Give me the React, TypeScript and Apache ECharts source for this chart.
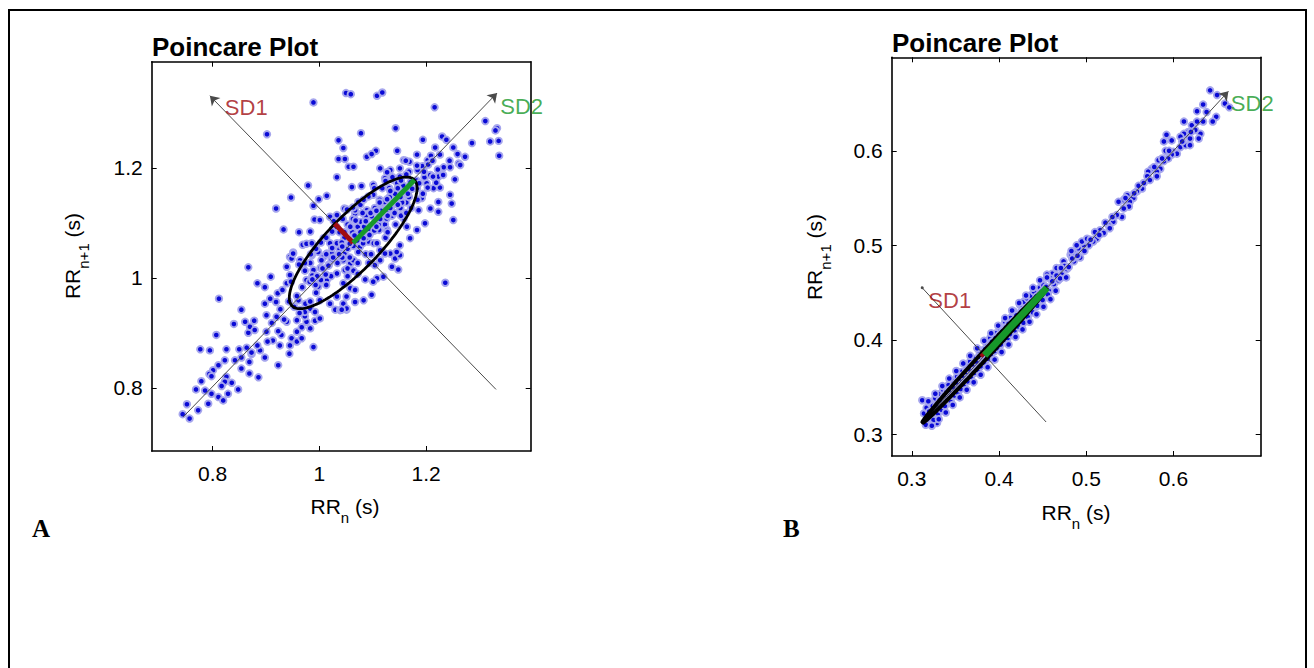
import React, { useEffect, useRef } from 'react';
import * as echarts from 'echarts';

const FONT = '"Liberation Sans", Arial, Helvetica, sans-serif';
const SERIF = '"Liberation Serif", "Times New Roman", serif';

// ---------- axis limits & ticks ----------
const xRangeA = [0.686, 1.396];
const yRangeA = [0.685, 1.393];
const xRangeB = [0.277, 0.7];
const yRangeB = [0.277, 0.699];
const ticksA = [0.8, 1, 1.2];
const ticksB = [0.3, 0.4, 0.5, 0.6];

// ---------- panel A : RR(n), RR(n+1) pairs (s) ----------
const pointsA: [number, number][] = [
  [0.989, 1.319], [0.902, 1.261], [1.036, 1.25], [1.036, 1.216], [1.055, 1.202], [1.033, 1.183],
  [0.979, 1.168], [0.947, 1.146], [0.999, 1.143], [1.014, 1.149], [0.919, 1.126], [0.989, 1.131],
  [1.047, 1.126], [0.933, 1.088], [0.962, 1.083], [0.983, 1.084], [0.991, 1.106], [1.001, 1.105],
  [1.02, 1.111], [1.033, 1.114], [1.008, 1.072], [1.02, 1.063], [0.969, 1.06], [0.976, 1.062],
  [0.986, 1.063], [0.951, 1.046], [0.945, 1.038], [0.998, 1.047], [1.014, 1.044], [1.047, 1.044],
  [1.05, 1.336], [1.059, 1.334], [1.108, 1.331], [1.118, 1.337], [1.216, 1.31], [1.311, 1.285],
  [1.333, 1.272], [1.33, 1.268], [1.32, 1.248], [1.336, 1.249], [1.337, 1.222], [1.286, 1.245],
  [1.143, 1.272], [1.078, 1.263], [1.194, 1.251], [1.045, 1.236], [1.106, 1.231], [1.23, 1.257],
  [1.238, 1.251], [1.217, 1.237], [1.251, 1.237], [1.259, 1.225], [1.146, 1.231], [1.089, 1.22],
  [1.098, 1.225], [1.048, 1.216], [1.064, 1.202], [1.158, 1.214], [1.169, 1.211], [1.203, 1.214],
  [1.209, 1.222], [1.233, 1.201], [1.245, 1.201], [1.261, 1.208], [1.264, 1.205], [1.273, 1.22],
  [1.114, 1.199], [1.133, 1.196], [1.151, 1.199], [1.164, 1.187], [1.184, 1.196], [1.195, 1.202],
  [1.123, 1.181], [1.139, 1.178], [1.223, 1.184], [1.254, 1.179], [1.061, 1.165], [1.079, 1.167],
  [1.101, 1.169], [1.201, 1.172], [1.214, 1.163], [1.226, 1.164], [1.245, 1.151], [1.248, 1.135],
  [1.223, 1.138], [1.208, 1.126], [1.192, 1.145], [1.186, 1.123], [1.251, 1.105], [1.223, 1.12],
  [1.198, 1.099], [1.183, 1.087], [1.17, 1.072], [1.164, 1.093], [1.158, 1.108], [1.073, 1.138],
  [1.067, 1.117], [1.089, 1.123], [1.101, 1.151], [1.151, 1.059], [1.133, 1.044], [1.114, 1.05],
  [1.076, 1.056], [1.092, 1.066],
  [0.867, 1.019], [0.884, 0.99], [0.898, 0.983], [0.909, 1.002], [0.812, 0.962], [0.854, 0.942],
  [0.84, 0.916], [0.861, 0.92], [0.878, 0.922], [0.807, 0.896], [0.867, 0.9], [0.87, 0.911],
  [0.879, 0.905], [0.777, 0.87], [0.795, 0.868], [0.826, 0.87], [0.85, 0.87], [0.823, 0.85],
  [0.842, 0.85], [0.854, 0.855], [0.811, 0.841], [0.801, 0.832], [0.794, 0.825], [0.798, 0.821],
  [0.854, 0.835], [0.869, 0.847], [0.869, 0.826], [0.886, 0.819], [0.826, 0.82], [0.823, 0.811],
  [0.817, 0.803], [0.836, 0.809], [0.848, 0.797], [0.829, 0.789], [0.811, 0.783], [0.82, 0.777],
  [0.779, 0.812], [0.769, 0.797], [0.786, 0.795], [0.798, 0.789], [0.792, 0.771], [0.773, 0.759],
  [0.752, 0.77], [0.744, 0.752], [0.757, 0.744], [0.873, 0.861], [0.889, 0.868], [0.898, 0.855],
  [0.901, 0.902], [0.911, 0.918], [0.92, 0.929], [0.901, 0.932], [0.898, 0.953], [0.922, 0.972],
  [0.919, 0.956], [0.931, 0.978], [0.939, 0.99], [0.945, 1.005], [0.939, 1.02], [0.948, 1.035],
  [0.923, 0.841], [0.926, 0.877], [0.929, 0.896], [0.945, 0.877], [0.948, 0.89], [0.958, 0.884],
  [0.944, 0.862], [0.967, 0.89], [0.989, 0.874], [0.958, 0.902], [0.967, 0.91], [0.976, 0.92],
  [0.983, 0.908], [0.992, 0.922], [1.001, 0.926], [0.973, 0.93], [0.958, 0.923], [0.964, 0.942],
  [0.973, 0.938], [0.983, 0.944], [0.992, 0.938], [0.961, 0.959], [0.976, 0.953], [1.001, 0.959],
  [1.02, 0.953], [1.03, 0.942], [1.039, 0.941], [1.051, 0.942], [1.045, 0.953], [1.033, 0.966],
  [1.051, 0.966], [0.951, 1.044], [0.964, 1.032], [0.986, 1.041], [1.008, 1.038], [1.023, 1.044],
  [1.045, 1.032], [0.989, 1.014], [0.976, 0.996], [0.998, 0.984], [1.014, 0.996], [1.033, 1.008],
  [1.045, 0.99], [1.051, 1.014], [0.908, 0.962], [0.939, 0.92],
  [1.236, 0.991], [1.148, 1.015], [1.136, 1.02], [1.142, 1.035], [1.151, 1.041], [1.145, 1.047],
  [1.12, 1.002], [1.108, 0.999], [1.101, 0.993], [1.086, 0.997], [1.098, 0.969], [1.083, 0.959],
  [1.067, 0.956], [1.051, 0.944], [1.042, 0.942], [1.058, 0.981], [1.067, 0.978], [1.048, 1.014],
  [1.058, 1.026], [1.064, 1.032], [1.114, 1.032], [1.123, 1.044], [1.104, 1.023],
  [1.072, 1.093], [1.078, 1.102], [1.093, 1.117], [1.098, 1.112], [1.117, 1.133], [1.132, 1.147],
  [1.143, 1.138], [1.148, 1.163], [1.157, 1.168], [1.113, 1.142], [1.097, 1.083], [1.123, 1.097],
  [1.128, 1.123], [1.152, 1.127], [1.047, 1.073], [1.038, 1.052], [1.033, 1.063], [1.057, 1.037],
  [1.082, 1.063], [1.088, 1.073], [1.112, 1.087], [1.023, 1.033], [1.002, 1.018], [0.987, 1.004],
  [1.013, 0.987], [0.968, 0.983], [0.958, 0.967], [1.067, 1.123], [1.053, 1.097], [1.077, 1.133],
  [1.168, 1.193], [1.182, 1.177], [1.193, 1.203], [1.163, 1.137], [1.137, 1.183], [1.118, 1.163],
  [1.102, 1.063], [1.038, 1.083], [1.063, 1.107], [1.032, 1.093], [1.127, 1.087], [1.153, 1.113],
  [1.168, 1.147], [1.183, 1.163], [1.197, 1.183], [1.208, 1.187], [1.187, 1.172], [1.222, 1.197],
  [1.053, 1.017], [1.072, 1.027], [1.087, 1.043], [1.108, 1.063], [1.022, 1.003], [0.983, 1.027],
  [0.973, 1.013], [0.947, 0.993], [0.943, 0.957], [0.927, 0.943],
  [1.062, 1.083], [1.071, 1.068], [1.084, 1.093], [1.093, 1.087], [1.104, 1.097], [1.113, 1.114],
  [1.118, 1.124], [1.134, 1.127], [1.142, 1.153], [1.153, 1.148], [1.163, 1.158], [1.171, 1.174],
  [1.087, 1.113], [1.104, 1.127], [1.116, 1.122], [1.122, 1.138], [1.131, 1.163], [1.146, 1.172],
  [1.151, 1.184], [1.163, 1.188], [1.081, 1.118], [1.068, 1.104], [1.058, 1.093], [1.047, 1.083],
  [1.103, 1.086], [1.111, 1.097], [1.126, 1.108], [1.136, 1.113], [1.141, 1.118], [1.155, 1.137],
  [1.166, 1.153], [1.174, 1.162], [1.043, 1.037], [1.034, 1.027], [1.018, 1.024], [1.012, 1.006],
  [1.003, 0.996], [0.993, 0.987], [0.982, 0.993], [1.004, 1.032], [1.013, 1.043], [1.024, 1.054],
  [1.036, 1.043], [1.042, 1.064], [1.053, 1.053], [1.064, 1.058], [1.073, 1.047], [1.083, 1.072],
  [1.094, 1.078], [1.183, 1.204], [1.196, 1.193], [1.204, 1.206], [1.212, 1.213], [1.203, 1.164],
  [1.219, 1.173], [1.184, 1.142], [1.172, 1.127], [1.163, 1.118], [1.194, 1.153], [1.213, 1.184],
  [1.232, 1.187], [1.244, 1.213], [1.226, 1.224], [1.183, 1.224], [1.162, 1.213], [1.127, 1.192],
  [1.124, 1.176], [1.103, 1.163], [1.092, 1.148], [1.083, 1.142], [1.063, 1.128], [1.052, 1.124],
  [1.044, 1.107], [1.027, 1.103], [1.024, 1.084], [1.013, 1.073], [1.003, 1.064], [0.994, 1.053],
  [0.984, 1.043], [0.973, 1.027], [0.962, 1.024], [1.093, 1.027], [1.097, 1.043], [1.124, 1.073],
  [1.128, 1.083], [1.143, 1.097], [1.053, 1.003], [1.064, 1.013], [1.072, 1.007], [0.974, 0.953],
  [0.983, 0.957], [0.994, 0.973], [0.953, 0.947], [0.963, 0.936], [0.934, 0.924], [0.923, 0.903],
  [0.913, 0.886], [0.903, 0.884], [0.884, 0.877], [0.873, 0.864], [0.864, 0.873],
  [1.087, 1.103], [1.096, 1.118], [1.107, 1.122], [1.113, 1.137], [1.127, 1.143], [1.133, 1.158],
  [1.147, 1.163], [1.153, 1.177], [1.077, 1.083], [1.066, 1.077], [1.057, 1.062], [1.043, 1.057],
  [1.107, 1.093], [1.114, 1.107], [1.128, 1.113], [1.133, 1.127], [1.147, 1.133], [1.152, 1.147],
  [1.037, 1.043], [1.026, 1.037], [1.017, 1.022], [1.006, 1.017], [0.996, 1.003], [0.987, 0.997],
];

// ---------- panel B : RR(n), RR(n+1) pairs (s) ----------
const pointsB: [number, number][] = [
  [0.642, 0.664], [0.65, 0.659], [0.659, 0.65], [0.664, 0.646], [0.649, 0.636], [0.645, 0.631],
  [0.634, 0.649], [0.627, 0.642], [0.634, 0.631], [0.631, 0.618], [0.612, 0.631], [0.621, 0.627],
  [0.625, 0.622], [0.617, 0.62], [0.612, 0.618], [0.608, 0.615], [0.619, 0.613], [0.629, 0.613],
  [0.598, 0.611], [0.608, 0.604], [0.614, 0.606], [0.619, 0.606], [0.592, 0.617], [0.589, 0.61],
  [0.6, 0.599], [0.604, 0.597], [0.598, 0.596], [0.594, 0.592], [0.589, 0.589], [0.583, 0.59],
  [0.591, 0.6], [0.585, 0.581], [0.581, 0.578], [0.575, 0.581], [0.571, 0.578], [0.57, 0.573],
  [0.573, 0.569], [0.581, 0.573], [0.564, 0.56], [0.558, 0.557], [0.554, 0.55], [0.55, 0.546],
  [0.547, 0.553], [0.543, 0.548], [0.549, 0.541], [0.543, 0.539], [0.537, 0.546], [0.541, 0.53],
  [0.535, 0.532], [0.531, 0.525], [0.526, 0.521], [0.527, 0.518], [0.516, 0.516], [0.52, 0.513],
  [0.512, 0.507], [0.508, 0.504], [0.503, 0.5], [0.497, 0.499], [0.491, 0.497], [0.485, 0.493],
  [0.482, 0.49], [0.474, 0.483], [0.466, 0.476], [0.461, 0.47], [0.495, 0.504], [0.501, 0.507],
  [0.489, 0.5], [0.483, 0.49],
  [0.312, 0.336], [0.329, 0.312], [0.318, 0.316], [0.314, 0.322], [0.317, 0.328], [0.321, 0.333],
  [0.322, 0.318], [0.326, 0.322], [0.327, 0.338], [0.331, 0.327], [0.333, 0.343], [0.336, 0.33],
  [0.336, 0.347], [0.339, 0.334], [0.342, 0.352], [0.344, 0.338], [0.346, 0.342], [0.348, 0.356],
  [0.35, 0.345], [0.352, 0.361], [0.354, 0.349], [0.357, 0.366], [0.359, 0.352], [0.361, 0.357],
  [0.363, 0.372], [0.366, 0.359], [0.367, 0.377], [0.37, 0.364], [0.373, 0.38], [0.375, 0.369],
  [0.378, 0.386], [0.38, 0.374], [0.382, 0.389], [0.385, 0.379], [0.386, 0.395], [0.388, 0.384],
  [0.39, 0.402], [0.393, 0.389], [0.397, 0.407], [0.398, 0.394], [0.401, 0.412], [0.403, 0.399],
  [0.407, 0.419], [0.409, 0.404], [0.413, 0.423], [0.414, 0.41], [0.417, 0.43], [0.419, 0.414],
  [0.424, 0.437], [0.425, 0.421], [0.428, 0.44], [0.43, 0.425], [0.432, 0.444], [0.435, 0.43],
  [0.436, 0.447], [0.44, 0.451], [0.441, 0.436], [0.447, 0.455], [0.446, 0.441], [0.451, 0.458],
  [0.452, 0.446], [0.455, 0.469], [0.459, 0.465], [0.457, 0.452], [0.463, 0.459], [0.468, 0.463],
  [0.472, 0.469], [0.478, 0.475], [0.486, 0.483], [0.493, 0.487],
  [0.316, 0.31], [0.32, 0.324], [0.324, 0.33], [0.325, 0.315], [0.328, 0.33], [0.33, 0.322],
  [0.332, 0.336], [0.334, 0.326], [0.337, 0.341], [0.338, 0.33], [0.34, 0.345], [0.341, 0.336],
  [0.343, 0.347], [0.345, 0.334], [0.347, 0.35], [0.349, 0.341], [0.351, 0.355], [0.353, 0.344],
  [0.355, 0.359], [0.356, 0.348], [0.358, 0.362], [0.36, 0.353], [0.362, 0.366], [0.364, 0.356],
  [0.365, 0.369], [0.368, 0.361], [0.37, 0.374], [0.372, 0.365], [0.374, 0.377], [0.376, 0.368],
  [0.377, 0.382], [0.379, 0.372], [0.381, 0.384], [0.383, 0.376], [0.384, 0.39], [0.387, 0.38],
  [0.389, 0.393], [0.391, 0.385], [0.392, 0.398], [0.395, 0.388], [0.396, 0.402], [0.399, 0.391],
  [0.4, 0.405], [0.402, 0.395], [0.404, 0.409], [0.406, 0.4], [0.408, 0.413], [0.41, 0.402],
  [0.411, 0.417], [0.413, 0.406], [0.416, 0.42], [0.418, 0.41], [0.42, 0.426], [0.422, 0.414],
  [0.426, 0.43], [0.428, 0.418], [0.431, 0.434], [0.433, 0.424], [0.437, 0.44], [0.439, 0.429],
  [0.443, 0.446], [0.444, 0.436], [0.449, 0.451], [0.45, 0.442], [0.454, 0.456], [0.456, 0.448],
  [0.461, 0.462], [0.466, 0.468], [0.47, 0.465], [0.475, 0.478], [0.48, 0.477], [0.484, 0.486],
  [0.49, 0.489], [0.498, 0.494], [0.505, 0.506], [0.51, 0.514], [0.515, 0.511], [0.522, 0.524],
  [0.53, 0.53], [0.545, 0.55], [0.555, 0.555], [0.56, 0.563], [0.566, 0.566], [0.578, 0.583],
  [0.587, 0.592], [0.595, 0.6], [0.61, 0.61], [0.62, 0.62], [0.627, 0.631], [0.638, 0.641],
  [0.319, 0.335], [0.323, 0.309], [0.327, 0.343], [0.331, 0.316], [0.335, 0.351], [0.339, 0.323],
  [0.343, 0.359], [0.347, 0.331], [0.351, 0.367], [0.355, 0.339], [0.359, 0.375], [0.363, 0.347],
  [0.367, 0.383], [0.371, 0.355], [0.375, 0.391], [0.379, 0.363], [0.383, 0.399], [0.387, 0.371],
  [0.391, 0.407], [0.395, 0.379], [0.399, 0.415], [0.403, 0.387], [0.407, 0.423], [0.411, 0.395],
  [0.415, 0.431], [0.419, 0.403], [0.423, 0.439], [0.427, 0.411], [0.431, 0.447], [0.435, 0.419],
  [0.439, 0.455], [0.443, 0.427], [0.447, 0.463], [0.451, 0.435], [0.455, 0.466], [0.459, 0.443],
  [0.465, 0.452], [0.471, 0.476], [0.477, 0.466], [0.483, 0.494],
];

// ---------- Poincare descriptors ----------
const centerA = 1.0635;
const sd1A = 0.049;
const sd2A = 0.162;
const centerB = 0.3835;
const sd1B = 0.004;
const sd2B = 0.101;
const sd2AxisA: [number, number][] = [[0.745, 0.747], [1.333, 1.336]];
const sd1AxisA: [number, number][] = [[1.331, 0.797], [0.795, 1.331]];
const sd2AxisB: [number, number][] = [[0.311, 0.311], [0.663, 0.663]];
const sd1AxisB: [number, number][] = [[0.454, 0.313], [0.312, 0.455]];
const labelSD1A: [number, number] = [0.823, 1.309];
const labelSD2A: [number, number] = [1.339, 1.3115];
const labelSD1B: [number, number] = [0.319, 0.442];
const labelSD2B: [number, number] = [0.6658, 0.65];

const BLUE = '#0a0ad6';
const HALO = '#a6a6ed';
const RED = '#a00c12';
const GREEN = '#17982a';

function ellipsePts(c: number, s1: number, s2: number, n = 160) {
  const pts: [number, number][] = [];
  const r = Math.SQRT1_2;
  for (let i = 0; i <= n; i++) {
    const t = (2 * Math.PI * i) / n;
    const u = s2 * Math.cos(t);
    const v = s1 * Math.sin(t);
    pts.push([c + (u - v) * r, c + (u + v) * r]);
  }
  return pts;
}

function makeAxis(kind: 'x' | 'y', gridIndex: number, position: string, range: number[], ticks: number[], showLabel: boolean) {
  return {
    type: 'value',
    gridIndex,
    position,
    min: range[0],
    max: range[1],
    axisLine: { show: true, onZero: false, lineStyle: { color: '#000', width: 1.6 } },
    axisTick: { show: true, inside: true, length: 5, customValues: ticks, lineStyle: { color: '#000', width: 1 } },
    axisLabel: {
      show: showLabel,
      customValues: ticks,
      formatter: (v: number) => String(v),
      color: '#000',
      fontSize: 21,
      fontFamily: FONT,
      margin: kind === 'x' ? 12 : 9,
    },
    splitLine: { show: false },
  };
}

function panelSeries(
  i: number,
  pts: [number, number][],
  c: number,
  s1: number,
  s2: number,
  sd1Axis: [number, number][],
  sd2Axis: [number, number][],
  lab1: [number, number],
  lab2: [number, number],
  ellW: number,
  segW: number,
  sd1TipSymbol: string,
  sd1TipSize: number,
) {
  const ax = { xAxisIndex: 2 * i, yAxisIndex: 2 * i };
  const r = Math.SQRT1_2;
  return [
    {
      type: 'scatter',
      ...ax,
      data: pts,
      symbol: 'circle',
      symbolSize: 6.5,
      itemStyle: { color: BLUE, borderColor: HALO, borderWidth: 1.9, opacity: 1 },
      silent: true,
      z: 2,
    },
    {
      type: 'line',
      ...ax,
      data: ellipsePts(c, s1, s2),
      showSymbol: false,
      symbol: 'none',
      lineStyle: { color: '#000', width: ellW },
      silent: true,
      z: 4,
      markLine: {
        silent: true,
        z: 3,
        symbol: ['none', 'arrow'],
        symbolSize: 9,
        label: { show: false },
        emphasis: { disabled: true },
        lineStyle: { color: '#4a4a4a', width: 1, type: 'solid' },
        data: [
          [{ coord: sd2Axis[0] }, { coord: sd2Axis[1] }],
          [{ coord: sd1Axis[0] }, { coord: sd1Axis[1], symbol: sd1TipSymbol, symbolSize: sd1TipSize }],
        ],
      },
    },
    {
      type: 'line',
      ...ax,
      data: [[c, c], [c - s1 * r, c + s1 * r]],
      showSymbol: false,
      symbol: 'none',
      lineStyle: { color: RED, width: segW },
      silent: true,
      z: 5,
    },
    {
      type: 'line',
      ...ax,
      data: [[c, c], [c + s2 * r, c + s2 * r]],
      showSymbol: false,
      symbol: 'none',
      lineStyle: { color: GREEN, width: segW },
      silent: true,
      z: 5,
    },
    {
      type: 'scatter',
      ...ax,
      symbolSize: 0,
      silent: true,
      z: 6,
      label: { show: true, position: 'right', distance: 0, fontSize: 22, fontFamily: FONT },
      data: [
        { value: lab1, label: { formatter: 'SD1', color: RED } },
        { value: lab2, label: { formatter: 'SD2', color: GREEN } },
      ],
    },
  ];
}

const rich = {
  a: { fontSize: 21, fontFamily: FONT, fill: '#000', lineHeight: 38 },
  b: { fontSize: 15, fontFamily: FONT, fill: '#000', lineHeight: 15, verticalAlign: 'bottom' },
};

function axisTitle(x: number, y: number, sub: string, rotated: boolean) {
  return {
    type: 'text',
    x,
    y,
    rotation: rotated ? Math.PI / 2 : 0,
    style: {
      text: `{a|RR}{b|${sub}}{a| (s)}`,
      rich,
      align: 'center',
      verticalAlign: 'middle',
      fill: '#000',
    },
  };
}

export default function App() {
  const ref = useRef<HTMLDivElement>(null);
  useEffect(() => {
    if (!ref.current) return;
    const chart = echarts.init(ref.current, undefined, { renderer: 'svg' });
    chart.setOption({
      animation: false,
      backgroundColor: '#fff',
      grid: [
        { left: 151.7, top: 61.7, width: 379, height: 389.3 },
        { left: 891.7, top: 57.3, width: 369, height: 398.7 },
      ],
      xAxis: [
        makeAxis('x', 0, 'bottom', xRangeA, ticksA, true),
        makeAxis('x', 0, 'top', xRangeA, ticksA, false),
        makeAxis('x', 1, 'bottom', xRangeB, ticksB, true),
        makeAxis('x', 1, 'top', xRangeB, ticksB, false),
      ],
      yAxis: [
        makeAxis('y', 0, 'left', yRangeA, ticksA, true),
        makeAxis('y', 0, 'right', yRangeA, ticksA, false),
        makeAxis('y', 1, 'left', yRangeB, ticksB, true),
        makeAxis('y', 1, 'right', yRangeB, ticksB, false),
      ],
      series: [
        ...panelSeries(0, pointsA, centerA, sd1A, sd2A, sd1AxisA, sd2AxisA, labelSD1A, labelSD2A, 2.8, 5, 'arrow', 9),
        ...panelSeries(1, pointsB, centerB, sd1B, sd2B, sd1AxisB, sd2AxisB, labelSD1B, labelSD2B, 4, 7, 'circle', 3),
      ],
      graphic: [
        {
          type: 'rect',
          shape: { x: 9, y: 10, width: 1297, height: 700 },
          style: { fill: 'none', stroke: '#000', lineWidth: 2 },
        },
        {
          type: 'text',
          x: 152,
          y: 46.5,
          style: { text: 'Poincare Plot', font: `bold 26px ${FONT}`, fill: '#000', verticalAlign: 'middle' },
        },
        {
          type: 'text',
          x: 892,
          y: 43,
          style: { text: 'Poincare Plot', font: `bold 26px ${FONT}`, fill: '#000', verticalAlign: 'middle' },
        },
        {
          type: 'text',
          x: 32,
          y: 528,
          style: { text: 'A', font: `bold 25px ${SERIF}`, fill: '#000', verticalAlign: 'middle' },
        },
        {
          type: 'text',
          x: 783,
          y: 528,
          style: { text: 'B', font: `bold 25px ${SERIF}`, fill: '#000', verticalAlign: 'middle' },
        },
        axisTitle(345, 506, 'n', false),
        axisTitle(1076, 512, 'n', false),
        axisTitle(72, 256, 'n+1', true),
        axisTitle(814, 257, 'n+1', true),
      ],
    });
    return () => chart.dispose();
  }, []);
  return (
    <div
      ref={ref}
      style={{ position: 'fixed', left: 0, top: 0, width: 1314, height: 668, background: '#fff' }}
    />
  );
}
